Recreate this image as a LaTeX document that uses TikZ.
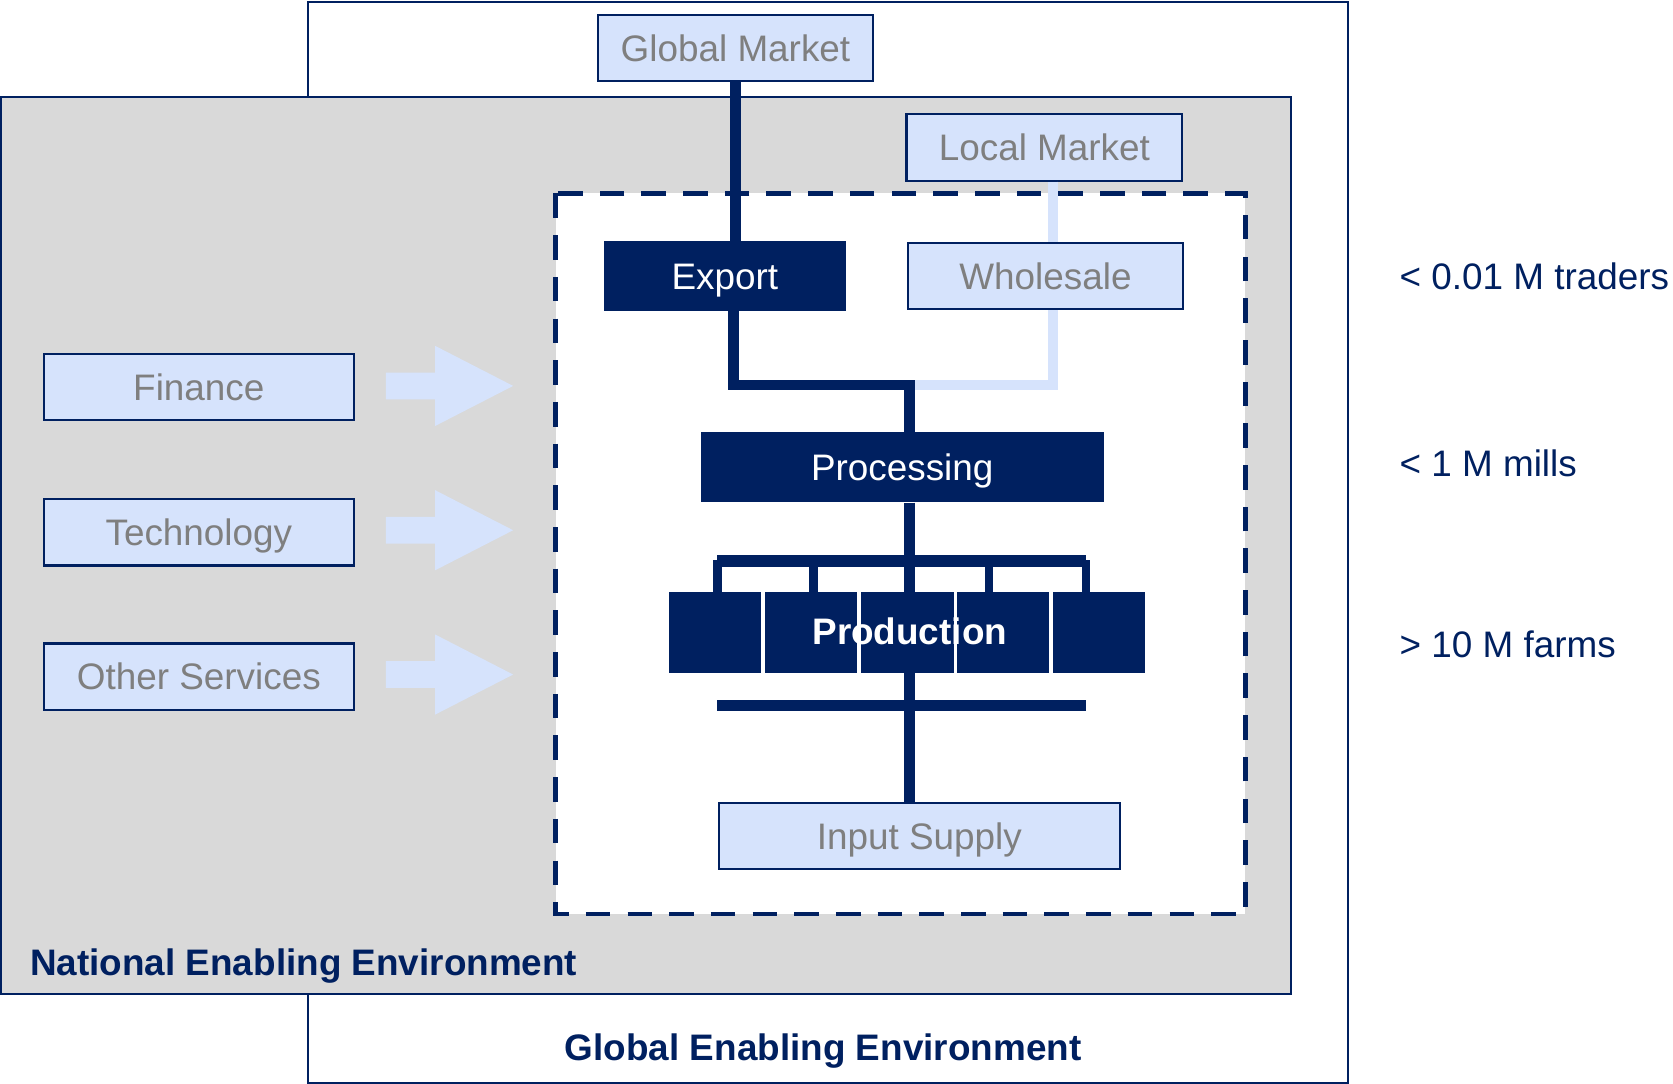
\documentclass[tikz,border=0pt]{standalone}
\usepackage{fontspec}
\setmainfont{Liberation Sans}
\definecolor{navy}{RGB}{0,32,96}
\definecolor{lblue}{RGB}{214,227,252}
\definecolor{gtext}{RGB}{127,127,127}
\definecolor{bggray}{RGB}{217,217,217}
\begin{document}
\begin{tikzpicture}[x=1pt,y=-1pt,
  txt/.style={font=\fontsize{34.5}{40}\selectfont,text height=24.7pt,text depth=0pt},
  lightbox/.style={txt,draw=navy,line width=2pt,fill=lblue,text=gtext,minimum height=62pt,inner sep=0pt},
  darkbox/.style={txt,fill=navy,text=white,minimum height=64pt,inner sep=0pt},
  navyline/.style={draw=navy,line width=10pt},
  lightline/.style={draw=lblue,line width=10pt},
  barline/.style={draw=navy,line width=11pt},
  stubline/.style={draw=navy,line width=8pt},
  blockarrow/.style={fill=lblue},
  envlabel/.style={txt,font=\fontsize{34.5}{40}\selectfont\bfseries,text=navy,inner sep=0pt},
  countlabel/.style={txt,text=navy,anchor=west,inner sep=0pt}
]
\useasboundingbox (0,0) rectangle (1565,1014);
% environments
\path[draw=navy,line width=2pt,fill=white] (288,2) rectangle (1261,1013);
\path[draw=navy,line width=2pt,fill=bggray] (1,91) rectangle (1208,930);
\path[draw=navy,line width=4.5pt,fill=white,dash pattern=on 23pt off 16pt] (520,181) rectangle (1165,855);
% block arrows
\foreach \yy/\nm in {361/a1,496/a2,631/a3}{
  \path[blockarrow] (361,\yy-12.5) -- (407,\yy-12.5) -- (407,\yy-37.5) -- (480,\yy) -- (407,\yy+37.5) -- (407,\yy+12.5) -- (361,\yy+12.5) -- cycle;
}
% nodes
\node[lightbox,minimum width=258pt] (gm) at (688,45) {Global Market};
\node[lightbox,minimum width=258pt] (lm) at (977,138) {Local Market};
\node[darkbox,minimum width=226pt,minimum height=65pt] (ex) at (678,258) {Export};
\node[lightbox,minimum width=257pt] (wh) at (978,258) {Wholesale};
\node[darkbox,minimum width=377pt,minimum height=66pt] (pr) at (844,437) {Processing};
\node[lightbox,minimum width=375pt] (is) at (860,782) {Input Supply};
\node[lightbox,minimum width=290pt] (fi) at (186,362) {Finance};
\node[lightbox,minimum width=290pt] (te) at (186,498) {Technology};
\node[lightbox,minimum width=290pt] (os) at (186,633) {Other Services};
% junction coordinates
\coordinate (jl) at (686,360);
\coordinate (jc) at (851,360);
\coordinate (jr) at (985,360);
% light (local) connectors
\draw[lightline] (lm.south -| jr) -- (wh.north -| jr);
\draw[lightline] (wh.south -| jr) -- (jr) -- (jc);
% navy connectors
\draw[navyline] (gm.south) -- (gm.south |- ex.north);
\draw[navyline] (ex.south -| jl) -- (jl) -- (jc) -- (pr.north -| jc);
\draw[navyline] (pr.south -| jc) -- (is.north -| jc);
% bracket and bar
\draw[barline] (671,524.5) -- (1016,524.5);
\foreach \xx in {671,761,925,1016}{\draw[stubline] (\xx,524) -- (\xx,556);}
\draw[barline] (671,660) -- (1016,660);
% production blocks
\foreach \xa/\xb/\nm in {626/712/p1,716/802/p2,805/892/p3,895/981/p4,985/1071/p5}{
  \node[fill=navy,inner sep=0pt,minimum width={\xb-\xa},minimum height=76pt] (\nm) at ({(\xa+\xb)/2},592) {};
}
\node[txt,font=\fontsize{34.5}{40}\selectfont\bfseries,text=white,inner sep=0pt] (prod) at (851,591) {Production};
% labels
\node[envlabel,anchor=west] (nee) at (28,900) {National Enabling Environment};
\node[envlabel] (gee) at (770,980) {Global Enabling Environment};
\node[countlabel] (c1) at (1309,258) {< 0.01 M traders};
\node[countlabel] (c2) at (1309,433) {< 1 M mills};
\node[countlabel] (c3) at (1309,603) {> 10 M farms};
\end{tikzpicture}
\end{document}
